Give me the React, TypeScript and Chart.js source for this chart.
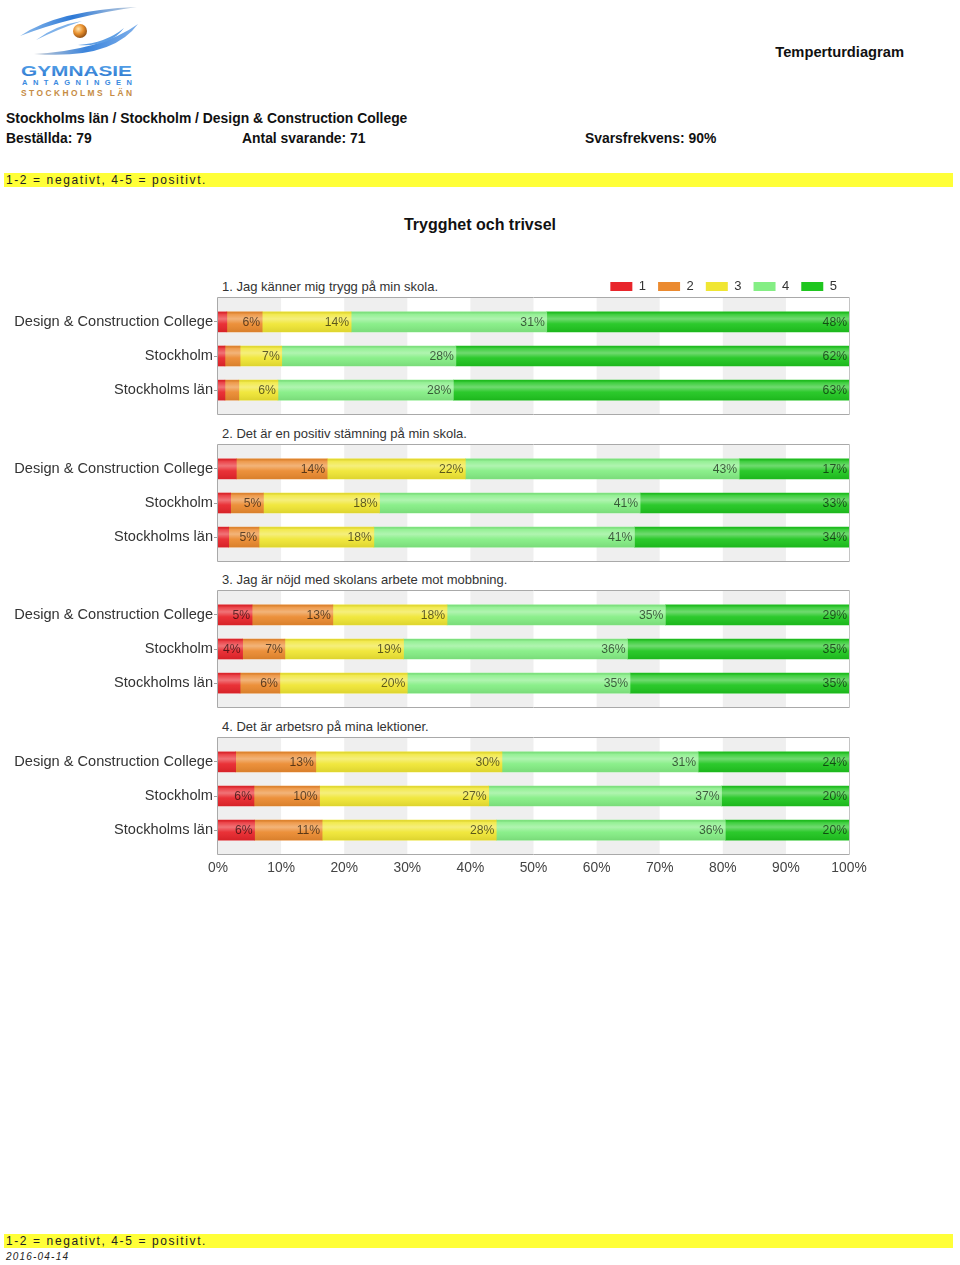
import React, { useEffect, useRef } from 'react';
import { Chart, registerables } from 'chart.js';

Chart.register(...registerables);

const FONT = "'Liberation Sans', Arial, Helvetica, sans-serif";

// ---------- data ----------
const categories = ['Design & Construction College', 'Stockholm', 'Stockholms län'];
const ratingLabels = ['1', '2', '3', '4', '5'];
const questionTitles = [
  '1. Jag känner mig trygg på min skola.',
  '2. Det är en positiv stämning på min skola.',
  '3. Jag är nöjd med skolans arbete mot mobbning.',
  '4. Det är arbetsro på mina lektioner.',
];
// rows: categories, columns: rating 1..5 (percent)
const q1Values = [
  [1.4, 5.6, 14.1, 31.0, 47.9],
  [1.1, 2.4, 6.6, 27.6, 62.3],
  [1.1, 2.2, 6.2, 27.8, 62.7],
];
const q2Values = [
  [2.9, 14.4, 21.9, 43.4, 17.4],
  [2.0, 5.2, 18.4, 41.3, 33.1],
  [1.7, 4.8, 18.2, 41.3, 34.0],
];
const q3Values = [
  [5.4, 12.8, 18.1, 34.6, 29.1],
  [3.9, 6.7, 18.8, 35.5, 35.1],
  [3.5, 6.3, 20.2, 35.3, 34.7],
];
const q4Values = [
  [2.8, 12.7, 29.5, 31.1, 23.9],
  [5.7, 10.4, 26.8, 36.9, 20.2],
  [5.8, 10.7, 27.6, 36.3, 19.6],
];
const questionValues = [q1Values, q2Values, q3Values, q4Values];
const xTickValues = [0, 10, 20, 30, 40, 50, 60, 70, 80, 90, 100];

// ---------- styles ----------
const ratingColors = ['#e8252b', '#eb8a2f', '#f0e633', '#84ee84', '#1fc61f'];
const LABEL_MIN = 3.7;
const PANEL_TOPS = [298, 445, 591, 738];
const PANEL_H = 116;
const CANVAS_W = 900;

const panelPlugin = {
  id: 'panelDecor',
  beforeDatasetsDraw(chart: any) {
    const { ctx, chartArea: a, scales } = chart;
    const x = scales.x;
    ctx.save();
    ctx.fillStyle = '#efefef';
    for (let v = 0; v < 100; v += 20) {
      const x0 = x.getPixelForValue(v);
      const x1 = x.getPixelForValue(v + 10);
      ctx.fillRect(x0, a.top, x1 - x0, a.bottom - a.top);
    }
    ctx.restore();
  },
  afterDatasetsDraw(chart: any) {
    const { ctx, chartArea: a } = chart;
    ctx.save();
    const metas = chart.getSortedVisibleDatasetMetas();
    // gloss overlay
    metas.forEach((meta: any) => {
      meta.data.forEach((el: any) => {
        const p = el.getProps(['x', 'y', 'base', 'height'], true);
        const left = Math.min(p.x, p.base);
        const w = Math.abs(p.x - p.base);
        const top = p.y - p.height / 2;
        const g = ctx.createLinearGradient(0, top, 0, top + p.height);
        g.addColorStop(0, 'rgba(0,0,0,0.06)');
        g.addColorStop(0.12, 'rgba(255,255,255,0.14)');
        g.addColorStop(0.35, 'rgba(255,255,255,0.36)');
        g.addColorStop(0.6, 'rgba(255,255,255,0.06)');
        g.addColorStop(1, 'rgba(0,0,0,0.08)');
        ctx.fillStyle = g;
        ctx.fillRect(left, top, w, p.height);
      });
    });
    // value labels
    ctx.font = `12.2px ${FONT}`;
    ctx.textAlign = 'right';
    ctx.textBaseline = 'middle';
    ctx.fillStyle = 'rgba(0,0,0,0.62)';
    metas.forEach((meta: any) => {
      const ds = chart.data.datasets[meta.index];
      meta.data.forEach((el: any, i: number) => {
        const v = ds.data[i].x;
        if (v < LABEL_MIN) return;
        const p = el.getProps(['x', 'y', 'base'], true);
        ctx.fillText(Math.round(v) + '%', Math.max(p.x, p.base) - 2, p.y + 0.5);
      });
    });
    // frame
    ctx.lineWidth = 1;
    ctx.strokeStyle = '#a9a9a9';
    ctx.beginPath();
    ctx.moveTo(a.right + 0.5, a.top - 0.5);
    ctx.lineTo(a.left - 0.5, a.top - 0.5);
    ctx.lineTo(a.left - 0.5, a.bottom + 0.5);
    ctx.lineTo(a.right + 0.5, a.bottom + 0.5);
    ctx.stroke();
    ctx.strokeStyle = '#c4c4c4';
    ctx.beginPath();
    ctx.moveTo(a.right + 0.5, a.top - 0.5);
    ctx.lineTo(a.right + 0.5, a.bottom + 0.5);
    ctx.stroke();
    ctx.restore();
  },
};

function PanelChart({ index }: { index: number }) {
  const ref = useRef<HTMLCanvasElement>(null);
  const isFirst = index === 0;
  const isLast = index === questionValues.length - 1;
  const padTop = isFirst ? 0 : 10;
  const legendH = isFirst ? 30 : 0;
  const bottomH = isLast ? 40 : 10;
  const height = padTop + legendH + PANEL_H + bottomH;
  const top = PANEL_TOPS[index] - padTop - legendH;

  useEffect(() => {
    const values = questionValues[index];
    const datasets = ratingLabels.map((lab, r) => ({
      label: lab,
      data: categories.map((_, c) => ({ x: values[c][r], y: c })),
      backgroundColor: ratingColors[r],
      borderWidth: 0,
      barThickness: 20,
    }));
    const chart = new Chart(ref.current as HTMLCanvasElement, {
      type: 'bar',
      data: { datasets } as any,
      options: {
        indexAxis: 'y',
        animation: false,
        responsive: false,
        maintainAspectRatio: false,
        layout: { padding: { top: padTop, bottom: isLast ? 0 : 10, left: 0, right: CANVAS_W - 849 } },
        scales: {
          x: {
            type: 'linear',
            stacked: true,
            min: 0,
            max: 100,
            display: isLast,
            afterBuildTicks: (s: any) => {
              s.ticks = xTickValues.map((v) => ({ value: v }));
            },
            afterFit: (s: any) => {
              if (isLast) s.height = 40;
            },
            grid: { display: false, drawTicks: false },
            border: { display: false },
            ticks: {
              autoSkip: false,
              maxRotation: 0,
              padding: 6,
              color: '#444',
              font: { size: 13.8, family: FONT },
              callback: (v: any) => v + '%',
            },
          },
          y: {
            type: 'linear',
            stacked: true,
            reverse: true,
            offset: false,
            min: -0.7,
            max: 2.7,
            afterBuildTicks: (s: any) => {
              s.ticks = categories.map((_, i) => ({ value: i }));
            },
            afterFit: (s: any) => {
              s.width = 218;
            },
            grid: { drawOnChartArea: false, drawTicks: true, tickLength: 4, color: '#a0a0a0', offset: false },
            border: { display: false },
            ticks: {
              padding: 1,
              color: '#333',
              font: { size: 14.6, family: FONT },
              callback: (v: any) => categories[v] ?? '',
            },
          },
        },
        plugins: {
          tooltip: { enabled: false },
          legend: {
            display: isFirst,
            position: 'top',
            align: 'end',
            fullSize: false,
            maxHeight: 30,
            labels: {
              boxWidth: 22,
              boxHeight: 9,
              padding: 12,
              color: '#333',
              font: { size: 13, family: FONT },
            },
          } as any,
        },
      } as any,
      plugins: [panelPlugin],
    });
    return () => chart.destroy();
  }, [index]);

  return (
    <canvas
      ref={ref}
      width={CANVAS_W}
      height={height}
      style={{ position: 'absolute', left: 0, top, width: CANVAS_W, height }}
    />
  );
}

function Text({ x, cy, size, bold, children, style }: any) {
  return (
    <div
      style={{
        position: 'absolute',
        left: x,
        top: cy - size * 0.49,
        fontSize: size,
        lineHeight: `${size}px`,
        fontWeight: bold ? 'bold' : 'normal',
        whiteSpace: 'nowrap',
        color: '#111',
        ...style,
      }}
    >
      {children}
    </div>
  );
}

function Logo() {
  return (
    <svg style={{ position: 'absolute', left: 0, top: 0 }} width={150} height={100}>
      <defs>
        <linearGradient id="swA" x1="0" y1="0" x2="1" y2="0">
          <stop offset="0" stopColor="#8dbbec" />
          <stop offset="0.45" stopColor="#2d79d6" />
          <stop offset="1" stopColor="#c9d3de" />
        </linearGradient>
        <linearGradient id="swB" x1="0" y1="0" x2="1" y2="0">
          <stop offset="0" stopColor="#c6ccd4" />
          <stop offset="0.5" stopColor="#3b84dc" />
          <stop offset="1" stopColor="#7fb0ea" />
        </linearGradient>
        <radialGradient id="ball" cx="0.38" cy="0.35" r="0.7">
          <stop offset="0" stopColor="#ffe6b0" />
          <stop offset="0.5" stopColor="#e8902e" />
          <stop offset="1" stopColor="#8a4a12" />
        </radialGradient>
        <linearGradient id="gym" x1="0" y1="0" x2="0" y2="1">
          <stop offset="0" stopColor="#5aa6ec" />
          <stop offset="1" stopColor="#2a74cc" />
        </linearGradient>
      </defs>
      <path d="M20 36 Q 58 10 137 7 Q 72 16 20 36 Z" fill="url(#swA)" />
      <path d="M34 54 Q 112 60 138 24 Q 102 50 34 54 Z" fill="url(#swB)" />
      <path d="M36 40 Q 56 25 82 21 Q 56 30 36 40 Z" fill="#7fb2ea" />
      <path d="M78 45 Q 106 43 124 28 Q 110 47 78 45 Z" fill="#5e9ee4" />
      <circle cx={80} cy={31} r={7} fill="url(#ball)" />
      <text x={21} y={76} fontFamily={FONT} fontWeight="bold" fontSize={14} fill="url(#gym)" textLength={111} lengthAdjust="spacingAndGlyphs">
        GYMNASIE
      </text>
      <text x={22} y={85} fontFamily={FONT} fontWeight="bold" fontSize={7.5} fill="#3b8ae0" textLength={110} lengthAdjust="spacing">
        ANTAGNINGEN
      </text>
      <text x={21} y={95.6} fontFamily={FONT} fontWeight="bold" fontSize={8.4} fill="#c68c44" textLength={111} lengthAdjust="spacing">
        STOCKHOLMS LÄN
      </text>
    </svg>
  );
}

const NOTE = '1-2 = negativt, 4-5 = positivt.';

function Band({ top }: { top: number }) {
  return (
    <div
      style={{
        position: 'absolute',
        left: 4,
        top,
        width: 949,
        height: 14,
        background: '#ffff38',
        fontSize: 12,
        lineHeight: '14px',
        letterSpacing: 1.6,
        paddingLeft: 2,
        boxSizing: 'border-box',
        whiteSpace: 'nowrap',
        color: '#222',
      }}
    >
      {NOTE}
    </div>
  );
}

export default function App() {
  return (
    <div
      style={{
        position: 'absolute',
        left: 0,
        top: 0,
        width: 960,
        height: 1265,
        background: '#fff',
        fontFamily: FONT,
        overflow: 'hidden',
      }}
    >
      <Logo />
      <div
        style={{
          position: 'absolute',
          right: 56,
          top: 52 - 14.7 * 0.49,
          fontSize: 14.7,
          lineHeight: '14.7px',
          fontWeight: 'bold',
          color: '#111',
          whiteSpace: 'nowrap',
        }}
      >
        Temperturdiagram
      </div>
      <Text x={6} cy={119} size={13.9} bold>
        Stockholms län / Stockholm / Design &amp; Construction College
      </Text>
      <Text x={6} cy={138.5} size={13.9} bold>
        Beställda: 79
      </Text>
      <Text x={242} cy={138.5} size={13.9} bold>
        Antal svarande: 71
      </Text>
      <Text x={585} cy={138.5} size={13.9} bold>
        Svarsfrekvens: 90%
      </Text>
      <Band top={173} />
      <div
        style={{
          position: 'absolute',
          left: 0,
          width: 960,
          top: 224.5 - 16 * 0.49,
          fontSize: 16,
          lineHeight: '16px',
          fontWeight: 'bold',
          textAlign: 'center',
          color: '#111',
        }}
      >
        Trygghet och trivsel
      </div>
      {questionTitles.map((t, i) => (
        <Text key={t} x={222} cy={PANEL_TOPS[i] - 11.5} size={13} style={{ color: '#333' }}>
          {t}
        </Text>
      ))}
      {questionValues.map((_, i) => (
        <PanelChart key={i} index={i} />
      ))}
      <Band top={1234} />
      <Text x={6} cy={1256.5} size={10} style={{ fontStyle: 'italic', letterSpacing: 1.2, color: '#222' }}>
        2016-04-14
      </Text>
    </div>
  );
}
